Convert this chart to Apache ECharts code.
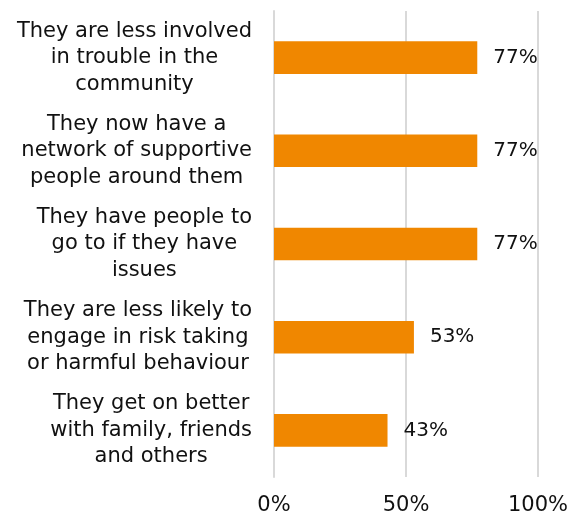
<!DOCTYPE html>
<html><head><meta charset="utf-8">
<script src="https://cdn.jsdelivr.net/npm/echarts@6/dist/echarts.min.js"></script>
<style>html,body{margin:0;padding:0;background:#fff}#c{width:572px;height:516px}</style>
</head><body><div id="c"></div>
<script>
const categories = [
  "They are less involved\nin trouble in the\ncommunity",
  "They now have a\nnetwork of supportive\npeople around them",
  "They have people to\ngo to if they have\nissues",
  "They are less likely to\nengage in risk taking\nor harmful behaviour",
  "They get on better\nwith family, friends\nand others"
];
const values = [77, 77, 77, 53, 43];
const xTicks = [0, 50, 100];

const chart = echarts.init(document.getElementById('c'), null, {renderer: 'canvas'});
chart.setOption({
  animation: false,
  textStyle: {fontFamily: 'DejaVu Sans'},
  grid: {left: 274, right: 34, top: 11, bottom: 38},
  xAxis: {
    type: 'value', min: 0, max: 100, interval: 50,
    axisLine: {show: false}, axisTick: {show: false},
    splitLine: {show: true, lineStyle: {color: '#d9d9d9', width: 2}},
    axisLabel: {formatter: v => xTicks.includes(v) ? v + '%' : '', color: '#111', fontSize: 21, margin: 18, fontFamily: 'DejaVu Sans'}
  },
  yAxis: {
    type: 'category', data: categories, inverse: true,
    axisLine: {show: true, lineStyle: {color: '#d9d9d9', width: 2}},
    axisTick: {show: false},
    axisLabel: {
      color: '#111', align: 'right', margin: 22,
      formatter: v => v.split('\n').map(s => '{a|' + s + '}').join('\n'),
      rich: {a: {align: 'center', fontSize: 21, lineHeight: 26.5, color: '#111', fontFamily: 'DejaVu Sans'}}
    }
  },
  series: [{
    type: 'bar', data: values, barWidth: '35%',
    itemStyle: {color: '#F08700'},
    label: {show: true, position: 'right', distance: 16, formatter: '{c}%', color: '#111', fontSize: 20, fontFamily: 'DejaVu Sans'}
  }]
});
</script></body></html>
